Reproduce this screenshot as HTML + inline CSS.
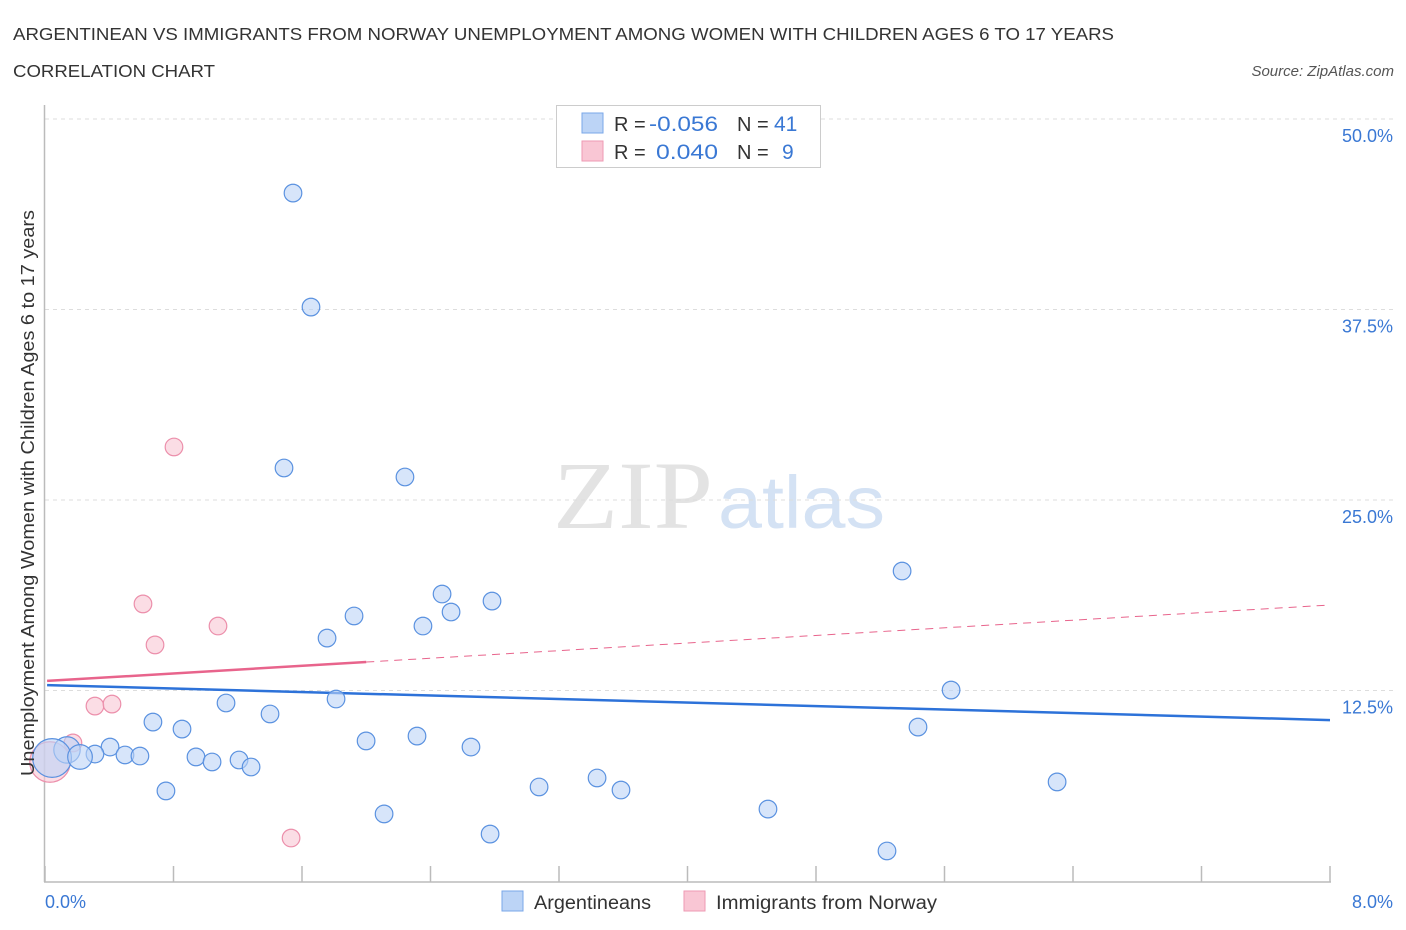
<!DOCTYPE html>
<html><head><meta charset="utf-8"><style>
body{margin:0;background:#fff;font-family:"Liberation Sans",sans-serif;}
#wrap{position:relative;width:1406px;height:930px;overflow:hidden;}
</style></head><body>
<div id="wrap">
<svg id="chart" width="1406" height="930" xmlns="http://www.w3.org/2000/svg">
<text x="13" y="40" font-size="17.5" fill="#333" textLength="1101" lengthAdjust="spacingAndGlyphs">ARGENTINEAN VS IMMIGRANTS FROM NORWAY UNEMPLOYMENT AMONG WOMEN WITH CHILDREN AGES 6 TO 17 YEARS</text>
<text x="13" y="77" font-size="17.5" fill="#333" textLength="202" lengthAdjust="spacingAndGlyphs">CORRELATION CHART</text>
<text x="1394" y="76" font-size="15" fill="#555" font-style="italic" text-anchor="end">Source: ZipAtlas.com</text>
<g>
<text x="553" y="528" font-size="96" font-family="Liberation Serif,serif" fill="#e3e3e3" textLength="160" lengthAdjust="spacingAndGlyphs">ZIP</text>
<text x="718" y="528" font-size="74" fill="#d4e2f4" textLength="167" lengthAdjust="spacingAndGlyphs">atlas</text>
</g>
<g id="grid"></g>
<g id="axes"></g>
<g id="trends"></g>
<g id="points"></g>
<text x="34" y="493" font-size="18" fill="#333" text-anchor="middle" textLength="566" lengthAdjust="spacingAndGlyphs" transform="rotate(-90 34 493)">Unemployment Among Women with Children Ages 6 to 17 years</text>
<text x="45" y="908" font-size="18" fill="#3a78d4">0.0%</text>
<text x="1393" y="908" font-size="18" fill="#3a78d4" text-anchor="end">8.0%</text>
<g>
<rect x="556.5" y="105.5" width="264" height="62" fill="#fff" stroke="#ccc"/>
<rect x="582" y="113" width="21" height="20" fill="#bcd4f6" stroke="#7aa7e8"/>
<rect x="582" y="141" width="21" height="20" fill="#f9c6d4" stroke="#ee9ab3"/>
<text x="614" y="131" font-size="20" fill="#333">R =</text><text x="649" y="131" font-size="21" fill="#3a78d4" textLength="69" lengthAdjust="spacingAndGlyphs">-0.056</text>
<text x="737" y="131" font-size="20" fill="#333">N =</text><text x="774" y="131" font-size="21" fill="#3a78d4">41</text>
<text x="614" y="159" font-size="20" fill="#333">R =</text><text x="656" y="159" font-size="21" fill="#3a78d4" textLength="62" lengthAdjust="spacingAndGlyphs">0.040</text>
<text x="737" y="159" font-size="20" fill="#333">N =</text><text x="782" y="159" font-size="21" fill="#3a78d4">9</text>
</g>
<g>
<rect x="502" y="891" width="21" height="20" fill="#bcd4f6" stroke="#7aa7e8"/>
<text x="534" y="909" font-size="19" fill="#333" textLength="117" lengthAdjust="spacingAndGlyphs">Argentineans</text>
<rect x="684" y="891" width="21" height="20" fill="#f9c6d4" stroke="#ee9ab3"/>
<text x="716" y="909" font-size="19" fill="#333" textLength="221" lengthAdjust="spacingAndGlyphs">Immigrants from Norway</text>
</g>
</svg>
</div>
<script>
const yTicks=[12.5,25,37.5,50];
const yTickLabels=["12.5%","25.0%","37.5%","50.0%"];
const xTicks=[0,0.8,1.6,2.4,3.2,4,4.8,5.6,6.4,7.2,8];
const blueX=[1.544,1.656,1.488,2.241,5.336,2.472,2.783,2.528,1.924,2.353,1.756,5.641,1.812,1.127,0.672,1.401,0.853,5.435,2.316,1.999,2.652,0.405,0.137,0.044,0.311,0.498,0.591,0.940,1.208,1.040,1.283,3.437,3.076,3.586,0.753,6.301,4.501,2.111,2.771,5.242,0.218];
const blueY=[45.14,37.66,27.10,26.51,20.34,18.83,18.37,17.65,17.39,16.73,15.94,12.53,11.94,11.68,10.43,10.96,9.97,10.10,9.51,9.19,8.79,8.79,8.60,8.07,8.33,8.27,8.20,8.14,7.94,7.81,7.48,6.76,6.17,5.97,5.91,6.50,4.72,4.40,3.08,1.97,8.14];
const blueSize=[1,1,1,1,1,1,1,1,1,1,1,1,1,1,1,1,1,1,1,1,1,1,1.5,2.2,1,1,1,1,1,1,1,1,1,1,1,1,1,1,1,1,1.4];
const pinkX=[0.803,0.610,0.685,1.077,0.311,0.417,0.174,0.031,1.532];
const pinkY=[28.48,18.18,15.49,16.73,11.48,11.61,9.06,7.81,2.82];
const pinkSize=[1,1,1,1,1,1,1,2.3,1];
const blueTrend=[12.86,10.56];
const pinkTrend=[13.12,18.11];
const pinkSolidEnd=2.0;
const NS="http://www.w3.org/2000/svg";
const xs=v=>45+v/8*1285;
const ys=v=>881-v/50*762;
function mk(tag,attrs,parent){const e=document.createElementNS(NS,tag);for(const k in attrs)e.setAttribute(k,attrs[k]);parent.appendChild(e);return e;}
const grid=document.getElementById('grid'),axes=document.getElementById('axes'),tr=document.getElementById('trends'),pts=document.getElementById('points');
yTicks.forEach((t,i)=>{
 const l=mk('line',{x1:45,x2:1393,y1:ys(t),y2:ys(t),stroke:'#ddd','stroke-dasharray':'4 4'},grid);
 
 
 const tx=mk('text',{x:1393,y:ys(t)+23,'font-size':18,fill:'#3a78d4','text-anchor':'end'},grid);
 tx.textContent=yTickLabels[i];
 
 
});
const ax=mk('line',{x1:44.5,x2:44.5,y1:105,y2:882,stroke:'#bbb','stroke-width':1.5},axes);


const bx=mk('line',{x1:44,x2:1331,y1:882,y2:882,stroke:'#bbb','stroke-width':1.5},axes);


xTicks.forEach(t=>{
 const l=mk('line',{x1:xs(t),x2:xs(t),y1:866,y2:882,stroke:'#bbb','stroke-width':1.5},axes);
 
 
});
function pt(x,y,s,fill,stroke){
 const c=mk('circle',{cx:xs(x),cy:ys(y),r:8.8*s,fill:fill,'fill-opacity':0.6,stroke:stroke,'stroke-width':1.2},pts);
 return c;
}
pinkX.forEach((x,i)=>{const c=pt(x,pinkY[i],pinkSize[i],'#f9c6d4','#ec8fab');
 
 });
blueX.forEach((x,i)=>{const c=pt(x,blueY[i],blueSize[i],'#bcd4f6','#5b92e0');
 
 });
const lin=(a,x)=>a[0]+(a[1]-a[0])*x/8;
const b=mk('line',{x1:xs(0.013),y1:ys(lin(blueTrend,0.013)),x2:xs(8),y2:ys(lin(blueTrend,8)),stroke:'#2d72d9','stroke-width':2.5},tr);


const p1=mk('line',{x1:xs(0.013),y1:ys(lin(pinkTrend,0.013)),x2:xs(pinkSolidEnd),y2:ys(lin(pinkTrend,pinkSolidEnd)),stroke:'#e8648c','stroke-width':2.5},tr);


const p2=mk('line',{x1:xs(pinkSolidEnd),y1:ys(lin(pinkTrend,pinkSolidEnd)),x2:xs(8),y2:ys(lin(pinkTrend,8)),stroke:'#e8648c','stroke-width':1,'stroke-dasharray':'8 6'},tr);


</script>
</body></html>
